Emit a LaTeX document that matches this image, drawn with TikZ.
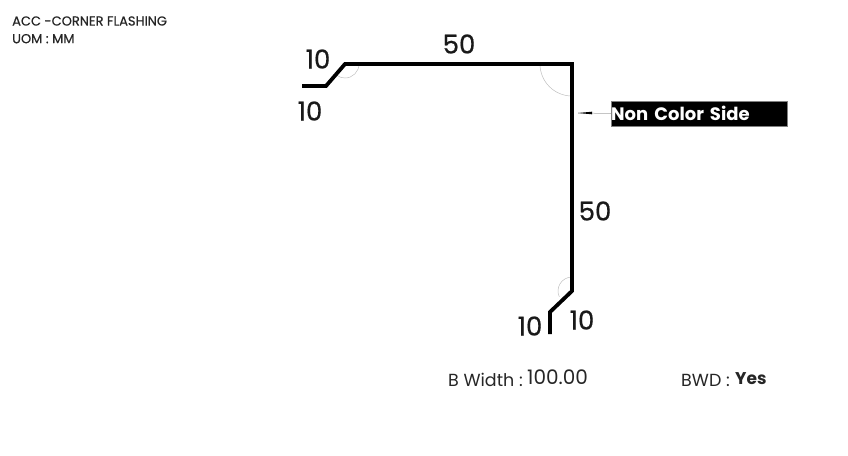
\documentclass[tikz,border=0pt]{standalone}
\usepackage{fontspec}
\setmainfont{Poppins}
\newfontfamily\medfont{Poppins}[FakeBold=0.6]
\usetikzlibrary{positioning}
\tikzstyle{flash} = [draw, line width=3.8pt, line join=miter]
\tikzstyle{angle} = [draw=black!25, line width=0.5pt]
\tikzstyle{dim} = [inner sep=0pt, font=\fontsize{26}{28}\medfont, text=black!90]
\tikzstyle{head} = [inner sep=0pt, anchor=west, font=\fontsize{13}{14}\medfont, text=black!85]
\tikzstyle{foot} = [inner sep=0pt, anchor=base west, font=\fontsize{17.5}{18}\selectfont, text=black!85]
\tikzstyle{line} = [draw=black!35, line width=0.5pt]

\begin{document}
\begin{tikzpicture}[x=1pt, y=-1pt]
	\useasboundingbox (0,0) rectangle (848,455);
	\coordinate (p1) at (302,86);
	\coordinate (p2) at (326,86);
	\coordinate (p3) at (345,64);
	\coordinate (p4) at (572,64);
	\coordinate (p5) at (572,291);
	\coordinate (p6) at (550,312);
	\coordinate (p7) at (550,334);
	\coordinate (tip) at (578,113);

	% angle marks
	\draw[angle] (359,64) arc[start angle=0, end angle=-125, x radius=14, y radius=-14];
	\draw[angle] (540,64) arc[start angle=180, end angle=270, x radius=32, y radius=-32];
	\draw[angle] (572,277) arc[start angle=90, end angle=205, x radius=14, y radius=-14];

	\path[flash] (p1) -- (p2) -- (p3) -- (p4) -- (p5) -- (p6) -- (p7);

	\node[dim] (d1) at (318,59) {10};
	\node[dim] (d2) at (310,111) {10};
	\node[dim] (d3) at (459,44) {50};
	\node[dim] (d4) at (595,211) {50};
	\node[dim] (d5) at (582,320) {10};
	\node[dim] (d6) at (530,326) {10};

	\node[fill=black, draw=black!50, line width=0.4pt, text=white, anchor=west, inner sep=0pt, minimum width=176pt, minimum height=25.5pt, font=\fontsize{18}{20}\selectfont\bfseries, text width=176pt] (side) at (611,113.5) {Non Color Side};
	\path[line] (side.west) -- (tip);
	\fill (tip) -- ++(14,-1.3) -- ++(0,2.6) -- cycle;

	\node[head] (title) at (12,21) {ACC -CORNER FLASHING};
	\node[head, below=8pt of title.south west, anchor=north west] (uom) {UOM : MM};

	\node[foot] (bw) at (448,386) {B Width :};
	\node[foot, anchor=base west, font=\fontsize{20}{20}\selectfont] (bwv) at (527,384) {100.00};
	\node[foot] (bwd) at (681,386) {BWD :};
	\node[foot, font=\fontsize{17}{18}\selectfont\bfseries] (yes) at (735,384) {Yes};
\end{tikzpicture}
\end{document}
